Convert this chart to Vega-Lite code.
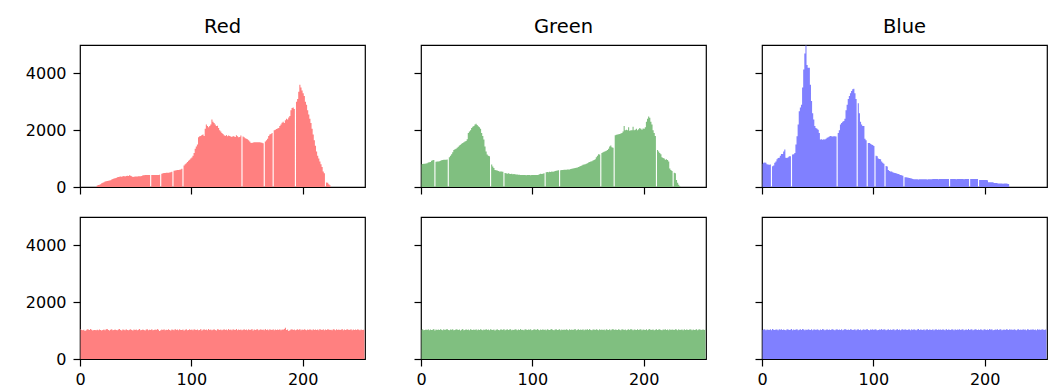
{
"$schema": "https://vega.github.io/schema/vega-lite/v6.json",
"padding": {"left": 24, "top": 15, "right": 5, "bottom": 0},
"background": "white",
"datasets": {
"R1": [{"x":14.5,"v":0},{"x":15.5,"v":50},{"x":16.5,"v":70},{"x":17.5,"v":80},{"x":18.5,"v":100},{"x":19.5,"v":130},{"x":20.5,"v":150},{"x":21.5,"v":170},{"x":22.5,"v":190},{"x":23.5,"v":200},{"x":24.5,"v":210},{"x":25.5,"v":220},{"x":26.5,"v":230},{"x":27.5,"v":240},{"x":28.5,"v":260},{"x":29.5,"v":280},{"x":30.5,"v":300},{"x":31.5,"v":310},{"x":32.5,"v":320},{"x":33.5,"v":340},{"x":34.5,"v":350},{"x":35.5,"v":360},{"x":36.5,"v":370},{"x":37.5,"v":360},{"x":38.5,"v":380},{"x":39.5,"v":390},{"x":40.5,"v":370},{"x":41.5,"v":390},{"x":42.5,"v":400},{"x":43.5,"v":390},{"x":44.5,"v":410},{"x":45.5,"v":400},{"x":46.5,"v":380},{"x":47.5,"v":350},{"x":48.5,"v":360},{"x":49.5,"v":370},{"x":50.5,"v":370},{"x":51.5,"v":370},{"x":52.5,"v":375},{"x":53.5,"v":380},{"x":54.5,"v":380},{"x":55.5,"v":385},{"x":56.5,"v":410},{"x":57.5,"v":415},{"x":58.5,"v":420},{"x":59.5,"v":420},{"x":60.5,"v":420},{"x":61.5,"v":420},{"x":62.5,"v":425},{"x":63.5,"v":0},{"x":64.5,"v":425},{"x":65.5,"v":425},{"x":66.5,"v":420},{"x":67.5,"v":425},{"x":68.5,"v":425},{"x":69.5,"v":425},{"x":70.5,"v":425},{"x":71.5,"v":430},{"x":72.5,"v":0},{"x":73.5,"v":470},{"x":74.5,"v":480},{"x":75.5,"v":490},{"x":76.5,"v":495},{"x":77.5,"v":500},{"x":78.5,"v":500},{"x":79.5,"v":505},{"x":80.5,"v":510},{"x":81.5,"v":520},{"x":82.5,"v":540},{"x":83.5,"v":0},{"x":84.5,"v":570},{"x":85.5,"v":580},{"x":86.5,"v":590},{"x":87.5,"v":600},{"x":88.5,"v":600},{"x":89.5,"v":610},{"x":90.5,"v":620},{"x":91.5,"v":640},{"x":92.5,"v":0},{"x":93.5,"v":760},{"x":94.5,"v":800},{"x":95.5,"v":840},{"x":96.5,"v":880},{"x":97.5,"v":920},{"x":98.5,"v":960},{"x":99.5,"v":1000},{"x":100.5,"v":1040},{"x":101.5,"v":1100},{"x":102.5,"v":1200},{"x":103.5,"v":1350},{"x":104.5,"v":1430},{"x":105.5,"v":1500},{"x":106.5,"v":1750},{"x":107.5,"v":1790},{"x":108.5,"v":1800},{"x":109.5,"v":1830},{"x":110.5,"v":1850},{"x":111.5,"v":1800},{"x":112.5,"v":2050},{"x":113.5,"v":2200},{"x":114.5,"v":2150},{"x":115.5,"v":2100},{"x":116.5,"v":2150},{"x":117.5,"v":2200},{"x":118.5,"v":2380},{"x":119.5,"v":2300},{"x":120.5,"v":2250},{"x":121.5,"v":2200},{"x":122.5,"v":2150},{"x":123.5,"v":2160},{"x":124.5,"v":2080},{"x":125.5,"v":2000},{"x":126.5,"v":1950},{"x":127.5,"v":1900},{"x":128.5,"v":1870},{"x":129.5,"v":1820},{"x":130.5,"v":1800},{"x":131.5,"v":1830},{"x":132.5,"v":1790},{"x":133.5,"v":1810},{"x":134.5,"v":1800},{"x":135.5,"v":1780},{"x":136.5,"v":1760},{"x":137.5,"v":1800},{"x":138.5,"v":1780},{"x":139.5,"v":1760},{"x":140.5,"v":1820},{"x":141.5,"v":1790},{"x":142.5,"v":1750},{"x":143.5,"v":1760},{"x":144.5,"v":1810},{"x":145.5,"v":0},{"x":146.5,"v":1780},{"x":147.5,"v":1750},{"x":148.5,"v":1720},{"x":149.5,"v":1700},{"x":150.5,"v":1680},{"x":151.5,"v":1650},{"x":152.5,"v":1600},{"x":153.5,"v":1560},{"x":154.5,"v":1550},{"x":155.5,"v":1570},{"x":156.5,"v":1580},{"x":157.5,"v":1580},{"x":158.5,"v":1575},{"x":159.5,"v":1580},{"x":160.5,"v":1580},{"x":161.5,"v":1575},{"x":162.5,"v":1570},{"x":163.5,"v":1560},{"x":164.5,"v":1540},{"x":165.5,"v":0},{"x":166.5,"v":1600},{"x":167.5,"v":1650},{"x":168.5,"v":1700},{"x":169.5,"v":1800},{"x":170.5,"v":1850},{"x":171.5,"v":1870},{"x":172.5,"v":1900},{"x":173.5,"v":0},{"x":174.5,"v":2000},{"x":175.5,"v":2020},{"x":176.5,"v":2040},{"x":177.5,"v":2060},{"x":178.5,"v":2080},{"x":179.5,"v":2150},{"x":180.5,"v":2200},{"x":181.5,"v":2260},{"x":182.5,"v":2300},{"x":183.5,"v":2250},{"x":184.5,"v":2350},{"x":185.5,"v":2400},{"x":186.5,"v":2380},{"x":187.5,"v":2450},{"x":188.5,"v":2500},{"x":189.5,"v":2700},{"x":190.5,"v":2780},{"x":191.5,"v":2800},{"x":192.5,"v":2750},{"x":193.5,"v":0},{"x":194.5,"v":3000},{"x":195.5,"v":3100},{"x":196.5,"v":3350},{"x":197.5,"v":3600},{"x":198.5,"v":3500},{"x":199.5,"v":3400},{"x":200.5,"v":3300},{"x":201.5,"v":3200},{"x":202.5,"v":3000},{"x":203.5,"v":2900},{"x":204.5,"v":2700},{"x":205.5,"v":2550},{"x":206.5,"v":2400},{"x":207.5,"v":2250},{"x":208.5,"v":2050},{"x":209.5,"v":1850},{"x":210.5,"v":1650},{"x":211.5,"v":1450},{"x":212.5,"v":1250},{"x":213.5,"v":1100},{"x":214.5,"v":1000},{"x":215.5,"v":900},{"x":216.5,"v":800},{"x":217.5,"v":700},{"x":218.5,"v":550},{"x":219.5,"v":480},{"x":220.5,"v":0},{"x":221.5,"v":160},{"x":222.5,"v":150},{"x":223.5,"v":100},{"x":224.5,"v":60},{"x":225.5,"v":0}],
"G1": [{"x":0.5,"v":800},{"x":1.5,"v":810},{"x":2.5,"v":820},{"x":3.5,"v":820},{"x":4.5,"v":830},{"x":5.5,"v":840},{"x":6.5,"v":860},{"x":7.5,"v":870},{"x":8.5,"v":880},{"x":9.5,"v":920},{"x":10.5,"v":940},{"x":11.5,"v":950},{"x":12.5,"v":0},{"x":13.5,"v":890},{"x":14.5,"v":900},{"x":15.5,"v":900},{"x":16.5,"v":910},{"x":17.5,"v":920},{"x":18.5,"v":940},{"x":19.5,"v":950},{"x":20.5,"v":960},{"x":21.5,"v":960},{"x":22.5,"v":960},{"x":23.5,"v":970},{"x":24.5,"v":0},{"x":25.5,"v":1050},{"x":26.5,"v":1100},{"x":27.5,"v":1150},{"x":28.5,"v":1220},{"x":29.5,"v":1300},{"x":30.5,"v":1330},{"x":31.5,"v":1350},{"x":32.5,"v":1380},{"x":33.5,"v":1420},{"x":34.5,"v":1460},{"x":35.5,"v":1490},{"x":36.5,"v":1520},{"x":37.5,"v":1550},{"x":38.5,"v":1580},{"x":39.5,"v":1600},{"x":40.5,"v":1620},{"x":41.5,"v":1680},{"x":42.5,"v":1900},{"x":43.5,"v":1950},{"x":44.5,"v":2000},{"x":45.5,"v":2080},{"x":46.5,"v":2120},{"x":47.5,"v":2150},{"x":48.5,"v":2200},{"x":49.5,"v":2230},{"x":50.5,"v":2180},{"x":51.5,"v":2140},{"x":52.5,"v":2100},{"x":53.5,"v":2050},{"x":54.5,"v":1900},{"x":55.5,"v":1800},{"x":56.5,"v":1670},{"x":57.5,"v":1430},{"x":58.5,"v":1250},{"x":59.5,"v":1140},{"x":60.5,"v":1100},{"x":61.5,"v":1080},{"x":62.5,"v":0},{"x":63.5,"v":790},{"x":64.5,"v":720},{"x":65.5,"v":670},{"x":66.5,"v":600},{"x":67.5,"v":590},{"x":68.5,"v":580},{"x":69.5,"v":560},{"x":70.5,"v":550},{"x":71.5,"v":550},{"x":72.5,"v":550},{"x":73.5,"v":540},{"x":74.5,"v":0},{"x":75.5,"v":490},{"x":76.5,"v":480},{"x":77.5,"v":470},{"x":78.5,"v":480},{"x":79.5,"v":470},{"x":80.5,"v":460},{"x":81.5,"v":470},{"x":82.5,"v":450},{"x":83.5,"v":460},{"x":84.5,"v":450},{"x":85.5,"v":440},{"x":86.5,"v":440},{"x":87.5,"v":435},{"x":88.5,"v":430},{"x":89.5,"v":425},{"x":90.5,"v":420},{"x":91.5,"v":425},{"x":92.5,"v":420},{"x":93.5,"v":420},{"x":94.5,"v":415},{"x":95.5,"v":420},{"x":96.5,"v":420},{"x":97.5,"v":420},{"x":98.5,"v":415},{"x":99.5,"v":420},{"x":100.5,"v":420},{"x":101.5,"v":420},{"x":102.5,"v":425},{"x":103.5,"v":420},{"x":104.5,"v":420},{"x":105.5,"v":430},{"x":106.5,"v":450},{"x":107.5,"v":470},{"x":108.5,"v":460},{"x":109.5,"v":470},{"x":110.5,"v":480},{"x":111.5,"v":0},{"x":112.5,"v":520},{"x":113.5,"v":530},{"x":114.5,"v":520},{"x":115.5,"v":540},{"x":116.5,"v":530},{"x":117.5,"v":550},{"x":118.5,"v":540},{"x":119.5,"v":550},{"x":120.5,"v":560},{"x":121.5,"v":570},{"x":122.5,"v":580},{"x":123.5,"v":590},{"x":124.5,"v":0},{"x":125.5,"v":590},{"x":126.5,"v":600},{"x":127.5,"v":600},{"x":128.5,"v":610},{"x":129.5,"v":610},{"x":130.5,"v":610},{"x":131.5,"v":620},{"x":132.5,"v":620},{"x":133.5,"v":620},{"x":134.5,"v":630},{"x":135.5,"v":640},{"x":136.5,"v":650},{"x":137.5,"v":660},{"x":138.5,"v":670},{"x":139.5,"v":680},{"x":140.5,"v":690},{"x":141.5,"v":700},{"x":142.5,"v":720},{"x":143.5,"v":740},{"x":144.5,"v":760},{"x":145.5,"v":780},{"x":146.5,"v":790},{"x":147.5,"v":800},{"x":148.5,"v":820},{"x":149.5,"v":840},{"x":150.5,"v":860},{"x":151.5,"v":880},{"x":152.5,"v":900},{"x":153.5,"v":910},{"x":154.5,"v":930},{"x":155.5,"v":950},{"x":156.5,"v":980},{"x":157.5,"v":1050},{"x":158.5,"v":1100},{"x":159.5,"v":1150},{"x":160.5,"v":1140},{"x":161.5,"v":0},{"x":162.5,"v":1200},{"x":163.5,"v":1220},{"x":164.5,"v":1240},{"x":165.5,"v":1260},{"x":166.5,"v":1280},{"x":167.5,"v":1300},{"x":168.5,"v":1350},{"x":169.5,"v":1430},{"x":170.5,"v":1460},{"x":171.5,"v":1400},{"x":172.5,"v":1380},{"x":173.5,"v":0},{"x":174.5,"v":1820},{"x":175.5,"v":1840},{"x":176.5,"v":1850},{"x":177.5,"v":1860},{"x":178.5,"v":1870},{"x":179.5,"v":1880},{"x":180.5,"v":1900},{"x":181.5,"v":1950},{"x":182.5,"v":2150},{"x":183.5,"v":2000},{"x":184.5,"v":2020},{"x":185.5,"v":2000},{"x":186.5,"v":2100},{"x":187.5,"v":1980},{"x":188.5,"v":2000},{"x":189.5,"v":2000},{"x":190.5,"v":2120},{"x":191.5,"v":2000},{"x":192.5,"v":2020},{"x":193.5,"v":2050},{"x":194.5,"v":2000},{"x":195.5,"v":2030},{"x":196.5,"v":2080},{"x":197.5,"v":2050},{"x":198.5,"v":2020},{"x":199.5,"v":2060},{"x":200.5,"v":2050},{"x":201.5,"v":2100},{"x":202.5,"v":2300},{"x":203.5,"v":2400},{"x":204.5,"v":2480},{"x":205.5,"v":2440},{"x":206.5,"v":2300},{"x":207.5,"v":2200},{"x":208.5,"v":2000},{"x":209.5,"v":1900},{"x":210.5,"v":1800},{"x":211.5,"v":0},{"x":212.5,"v":1300},{"x":213.5,"v":1250},{"x":214.5,"v":1200},{"x":215.5,"v":1150},{"x":216.5,"v":1050},{"x":217.5,"v":1020},{"x":218.5,"v":1000},{"x":219.5,"v":960},{"x":220.5,"v":980},{"x":221.5,"v":950},{"x":222.5,"v":900},{"x":223.5,"v":650},{"x":224.5,"v":600},{"x":225.5,"v":560},{"x":226.5,"v":0},{"x":227.5,"v":500},{"x":228.5,"v":480},{"x":229.5,"v":250},{"x":230.5,"v":150},{"x":231.5,"v":80},{"x":232.5,"v":30},{"x":233.5,"v":0}],
"B1": [{"x":0.5,"v":820},{"x":1.5,"v":850},{"x":2.5,"v":860},{"x":3.5,"v":850},{"x":4.5,"v":800},{"x":5.5,"v":790},{"x":6.5,"v":780},{"x":7.5,"v":790},{"x":8.5,"v":0},{"x":9.5,"v":730},{"x":10.5,"v":760},{"x":11.5,"v":850},{"x":12.5,"v":900},{"x":13.5,"v":980},{"x":14.5,"v":1020},{"x":15.5,"v":1030},{"x":16.5,"v":1100},{"x":17.5,"v":1160},{"x":18.5,"v":1160},{"x":19.5,"v":1250},{"x":20.5,"v":1320},{"x":21.5,"v":1030},{"x":22.5,"v":1020},{"x":23.5,"v":1050},{"x":24.5,"v":1080},{"x":25.5,"v":1080},{"x":26.5,"v":0},{"x":27.5,"v":1140},{"x":28.5,"v":1150},{"x":29.5,"v":1200},{"x":30.5,"v":1500},{"x":31.5,"v":1790},{"x":32.5,"v":2200},{"x":33.5,"v":2670},{"x":34.5,"v":2800},{"x":35.5,"v":2900},{"x":36.5,"v":3500},{"x":37.5,"v":4140},{"x":38.5,"v":4700},{"x":39.5,"v":4980},{"x":40.5,"v":4300},{"x":41.5,"v":4200},{"x":42.5,"v":4200},{"x":43.5,"v":3600},{"x":44.5,"v":3030},{"x":45.5,"v":2600},{"x":46.5,"v":2380},{"x":47.5,"v":2150},{"x":48.5,"v":2080},{"x":49.5,"v":2050},{"x":50.5,"v":2020},{"x":51.5,"v":1900},{"x":52.5,"v":1670},{"x":53.5,"v":1680},{"x":54.5,"v":1660},{"x":55.5,"v":1680},{"x":56.5,"v":1670},{"x":57.5,"v":1700},{"x":58.5,"v":1730},{"x":59.5,"v":1750},{"x":60.5,"v":1780},{"x":61.5,"v":1800},{"x":62.5,"v":1790},{"x":63.5,"v":1780},{"x":64.5,"v":1790},{"x":65.5,"v":1790},{"x":66.5,"v":1780},{"x":67.5,"v":0},{"x":68.5,"v":1900},{"x":69.5,"v":2000},{"x":70.5,"v":2200},{"x":71.5,"v":2250},{"x":72.5,"v":2300},{"x":73.5,"v":2320},{"x":74.5,"v":2400},{"x":75.5,"v":2700},{"x":76.5,"v":2900},{"x":77.5,"v":3100},{"x":78.5,"v":3200},{"x":79.5,"v":3300},{"x":80.5,"v":3380},{"x":81.5,"v":3440},{"x":82.5,"v":3460},{"x":83.5,"v":3300},{"x":84.5,"v":3100},{"x":85.5,"v":0},{"x":86.5,"v":2950},{"x":87.5,"v":2600},{"x":88.5,"v":2300},{"x":89.5,"v":2200},{"x":90.5,"v":2150},{"x":91.5,"v":2150},{"x":92.5,"v":1700},{"x":93.5,"v":1650},{"x":94.5,"v":0},{"x":95.5,"v":1550},{"x":96.5,"v":1550},{"x":97.5,"v":1520},{"x":98.5,"v":1500},{"x":99.5,"v":1480},{"x":100.5,"v":1440},{"x":101.5,"v":0},{"x":102.5,"v":1100},{"x":103.5,"v":1080},{"x":104.5,"v":1000},{"x":105.5,"v":990},{"x":106.5,"v":980},{"x":107.5,"v":900},{"x":108.5,"v":850},{"x":109.5,"v":820},{"x":110.5,"v":0},{"x":111.5,"v":740},{"x":112.5,"v":720},{"x":113.5,"v":600},{"x":114.5,"v":560},{"x":115.5,"v":550},{"x":116.5,"v":550},{"x":117.5,"v":520},{"x":118.5,"v":500},{"x":119.5,"v":490},{"x":120.5,"v":480},{"x":121.5,"v":470},{"x":122.5,"v":460},{"x":123.5,"v":440},{"x":124.5,"v":420},{"x":125.5,"v":410},{"x":126.5,"v":400},{"x":127.5,"v":0},{"x":128.5,"v":340},{"x":129.5,"v":340},{"x":130.5,"v":335},{"x":131.5,"v":330},{"x":132.5,"v":320},{"x":133.5,"v":310},{"x":134.5,"v":300},{"x":135.5,"v":280},{"x":136.5,"v":275},{"x":137.5,"v":270},{"x":138.5,"v":270},{"x":139.5,"v":270},{"x":140.5,"v":265},{"x":141.5,"v":270},{"x":142.5,"v":270},{"x":143.5,"v":275},{"x":144.5,"v":270},{"x":145.5,"v":270},{"x":146.5,"v":275},{"x":147.5,"v":270},{"x":148.5,"v":265},{"x":149.5,"v":270},{"x":150.5,"v":275},{"x":151.5,"v":270},{"x":152.5,"v":270},{"x":153.5,"v":280},{"x":154.5,"v":280},{"x":155.5,"v":285},{"x":156.5,"v":280},{"x":157.5,"v":280},{"x":158.5,"v":275},{"x":159.5,"v":280},{"x":160.5,"v":285},{"x":161.5,"v":280},{"x":162.5,"v":280},{"x":163.5,"v":280},{"x":164.5,"v":285},{"x":165.5,"v":280},{"x":166.5,"v":280},{"x":167.5,"v":280},{"x":168.5,"v":0},{"x":169.5,"v":280},{"x":170.5,"v":285},{"x":171.5,"v":280},{"x":172.5,"v":280},{"x":173.5,"v":280},{"x":174.5,"v":275},{"x":175.5,"v":280},{"x":176.5,"v":285},{"x":177.5,"v":280},{"x":178.5,"v":280},{"x":179.5,"v":280},{"x":180.5,"v":280},{"x":181.5,"v":275},{"x":182.5,"v":280},{"x":183.5,"v":280},{"x":184.5,"v":285},{"x":185.5,"v":280},{"x":186.5,"v":0},{"x":187.5,"v":280},{"x":188.5,"v":280},{"x":189.5,"v":285},{"x":190.5,"v":280},{"x":191.5,"v":280},{"x":192.5,"v":280},{"x":193.5,"v":280},{"x":194.5,"v":0},{"x":195.5,"v":250},{"x":196.5,"v":250},{"x":197.5,"v":245},{"x":198.5,"v":250},{"x":199.5,"v":250},{"x":200.5,"v":245},{"x":201.5,"v":250},{"x":202.5,"v":240},{"x":203.5,"v":170},{"x":204.5,"v":170},{"x":205.5,"v":165},{"x":206.5,"v":170},{"x":207.5,"v":165},{"x":208.5,"v":140},{"x":209.5,"v":140},{"x":210.5,"v":140},{"x":211.5,"v":135},{"x":212.5,"v":120},{"x":213.5,"v":120},{"x":214.5,"v":120},{"x":215.5,"v":120},{"x":216.5,"v":115},{"x":217.5,"v":120},{"x":218.5,"v":120},{"x":219.5,"v":120},{"x":220.5,"v":115},{"x":221.5,"v":110},{"x":222.5,"v":0}],
"R2": [{"x":0.5,"v":1060},{"x":1.5,"v":1020},{"x":2.5,"v":1015},{"x":3.5,"v":1030},{"x":4.5,"v":990},{"x":5.5,"v":1010},{"x":6.5,"v":1050},{"x":7.5,"v":1040},{"x":8.5,"v":1020},{"x":9.5,"v":1055},{"x":10.5,"v":1030},{"x":11.5,"v":1005},{"x":12.5,"v":1020},{"x":13.5,"v":1025},{"x":14.5,"v":1010},{"x":15.5,"v":1030},{"x":16.5,"v":1015},{"x":17.5,"v":1040},{"x":18.5,"v":1025},{"x":19.5,"v":1000},{"x":20.5,"v":1020},{"x":21.5,"v":1035},{"x":22.5,"v":1010},{"x":23.5,"v":1045},{"x":24.5,"v":1060},{"x":25.5,"v":1020},{"x":26.5,"v":1000},{"x":27.5,"v":1030},{"x":28.5,"v":1050},{"x":29.5,"v":1015},{"x":30.5,"v":1025},{"x":31.5,"v":1040},{"x":32.5,"v":1020},{"x":33.5,"v":1010},{"x":34.5,"v":1035},{"x":35.5,"v":1060},{"x":36.5,"v":1025},{"x":37.5,"v":1000},{"x":38.5,"v":1040},{"x":39.5,"v":1030},{"x":40.5,"v":1015},{"x":41.5,"v":1050},{"x":42.5,"v":1020},{"x":43.5,"v":1010},{"x":44.5,"v":1030},{"x":45.5,"v":1045},{"x":46.5,"v":1025},{"x":47.5,"v":1005},{"x":48.5,"v":1035},{"x":49.5,"v":1020},{"x":50.5,"v":1040},{"x":51.5,"v":1015},{"x":52.5,"v":1030},{"x":53.5,"v":1055},{"x":54.5,"v":1010},{"x":55.5,"v":1025},{"x":56.5,"v":1040},{"x":57.5,"v":1020},{"x":58.5,"v":1000},{"x":59.5,"v":1035},{"x":60.5,"v":1050},{"x":61.5,"v":1015},{"x":62.5,"v":1030},{"x":63.5,"v":1020},{"x":64.5,"v":1045},{"x":65.5,"v":1010},{"x":66.5,"v":1025},{"x":67.5,"v":1040},{"x":68.5,"v":1020},{"x":69.5,"v":1060},{"x":70.5,"v":1030},{"x":71.5,"v":985},{"x":72.5,"v":1015},{"x":73.5,"v":1040},{"x":74.5,"v":1025},{"x":75.5,"v":1050},{"x":76.5,"v":1010},{"x":77.5,"v":1030},{"x":78.5,"v":1020},{"x":79.5,"v":1045},{"x":80.5,"v":1025},{"x":81.5,"v":1000},{"x":82.5,"v":1040},{"x":83.5,"v":1030},{"x":84.5,"v":1015},{"x":85.5,"v":1055},{"x":86.5,"v":1020},{"x":87.5,"v":1035},{"x":88.5,"v":1010},{"x":89.5,"v":1045},{"x":90.5,"v":1025},{"x":91.5,"v":1020},{"x":92.5,"v":1040},{"x":93.5,"v":1005},{"x":94.5,"v":1030},{"x":95.5,"v":1050},{"x":96.5,"v":1015},{"x":97.5,"v":1025},{"x":98.5,"v":1045},{"x":99.5,"v":1020},{"x":100.5,"v":1035},{"x":101.5,"v":1010},{"x":102.5,"v":1050},{"x":103.5,"v":1030},{"x":104.5,"v":1020},{"x":105.5,"v":1040},{"x":106.5,"v":1015},{"x":107.5,"v":1025},{"x":108.5,"v":1060},{"x":109.5,"v":1000},{"x":110.5,"v":1030},{"x":111.5,"v":1045},{"x":112.5,"v":1020},{"x":113.5,"v":1035},{"x":114.5,"v":1010},{"x":115.5,"v":1055},{"x":116.5,"v":1025},{"x":117.5,"v":1040},{"x":118.5,"v":1015},{"x":119.5,"v":1030},{"x":120.5,"v":1050},{"x":121.5,"v":1020},{"x":122.5,"v":1005},{"x":123.5,"v":1045},{"x":124.5,"v":1035},{"x":125.5,"v":1020},{"x":126.5,"v":1040},{"x":127.5,"v":1010},{"x":128.5,"v":1030},{"x":129.5,"v":1050},{"x":130.5,"v":1020},{"x":131.5,"v":1035},{"x":132.5,"v":1015},{"x":133.5,"v":1060},{"x":134.5,"v":1025},{"x":135.5,"v":1040},{"x":136.5,"v":1010},{"x":137.5,"v":1045},{"x":138.5,"v":1030},{"x":139.5,"v":1020},{"x":140.5,"v":1055},{"x":141.5,"v":1015},{"x":142.5,"v":1035},{"x":143.5,"v":1025},{"x":144.5,"v":1040},{"x":145.5,"v":1010},{"x":146.5,"v":1030},{"x":147.5,"v":1050},{"x":148.5,"v":1020},{"x":149.5,"v":1035},{"x":150.5,"v":1015},{"x":151.5,"v":1045},{"x":152.5,"v":1025},{"x":153.5,"v":1030},{"x":154.5,"v":1060},{"x":155.5,"v":1000},{"x":156.5,"v":1040},{"x":157.5,"v":1020},{"x":158.5,"v":1035},{"x":159.5,"v":1050},{"x":160.5,"v":1015},{"x":161.5,"v":1030},{"x":162.5,"v":1045},{"x":163.5,"v":1020},{"x":164.5,"v":1040},{"x":165.5,"v":1010},{"x":166.5,"v":1055},{"x":167.5,"v":1025},{"x":168.5,"v":1035},{"x":169.5,"v":1015},{"x":170.5,"v":1050},{"x":171.5,"v":1030},{"x":172.5,"v":1020},{"x":173.5,"v":1045},{"x":174.5,"v":1010},{"x":175.5,"v":1040},{"x":176.5,"v":1025},{"x":177.5,"v":1035},{"x":178.5,"v":1020},{"x":179.5,"v":1050},{"x":180.5,"v":1015},{"x":181.5,"v":1040},{"x":182.5,"v":1030},{"x":183.5,"v":1060},{"x":184.5,"v":1100},{"x":185.5,"v":1020},{"x":186.5,"v":1040},{"x":187.5,"v":990},{"x":188.5,"v":1010},{"x":189.5,"v":1035},{"x":190.5,"v":1050},{"x":191.5,"v":1025},{"x":192.5,"v":1040},{"x":193.5,"v":1015},{"x":194.5,"v":1030},{"x":195.5,"v":1045},{"x":196.5,"v":1020},{"x":197.5,"v":1055},{"x":198.5,"v":1010},{"x":199.5,"v":1035},{"x":200.5,"v":1025},{"x":201.5,"v":1050},{"x":202.5,"v":1030},{"x":203.5,"v":1015},{"x":204.5,"v":1040},{"x":205.5,"v":1020},{"x":206.5,"v":1045},{"x":207.5,"v":1030},{"x":208.5,"v":1010},{"x":209.5,"v":1050},{"x":210.5,"v":1025},{"x":211.5,"v":1035},{"x":212.5,"v":1020},{"x":213.5,"v":1040},{"x":214.5,"v":1015},{"x":215.5,"v":1055},{"x":216.5,"v":1030},{"x":217.5,"v":1020},{"x":218.5,"v":1045},{"x":219.5,"v":1010},{"x":220.5,"v":1035},{"x":221.5,"v":1025},{"x":222.5,"v":1050},{"x":223.5,"v":1040},{"x":224.5,"v":1020},{"x":225.5,"v":1030},{"x":226.5,"v":1015},{"x":227.5,"v":1045},{"x":228.5,"v":1035},{"x":229.5,"v":1010},{"x":230.5,"v":1050},{"x":231.5,"v":1025},{"x":232.5,"v":1040},{"x":233.5,"v":1020},{"x":234.5,"v":1030},{"x":235.5,"v":1055},{"x":236.5,"v":1015},{"x":237.5,"v":1040},{"x":238.5,"v":1025},{"x":239.5,"v":1035},{"x":240.5,"v":1045},{"x":241.5,"v":1020},{"x":242.5,"v":1030},{"x":243.5,"v":1050},{"x":244.5,"v":1010},{"x":245.5,"v":1040},{"x":246.5,"v":1025},{"x":247.5,"v":1035},{"x":248.5,"v":1020},{"x":249.5,"v":1045},{"x":250.5,"v":1030},{"x":251.5,"v":1015},{"x":252.5,"v":1040},{"x":253.5,"v":1020},{"x":254.5,"v":1030},{"x":255.5,"v":1025}],
"G2": [{"x":0.5,"v":1030},{"x":1.5,"v":1045},{"x":2.5,"v":1010},{"x":3.5,"v":1025},{"x":4.5,"v":1040},{"x":5.5,"v":1020},{"x":6.5,"v":1050},{"x":7.5,"v":1015},{"x":8.5,"v":1035},{"x":9.5,"v":1020},{"x":10.5,"v":1030},{"x":11.5,"v":1055},{"x":12.5,"v":1000},{"x":13.5,"v":1040},{"x":14.5,"v":1025},{"x":15.5,"v":1035},{"x":16.5,"v":1020},{"x":17.5,"v":1050},{"x":18.5,"v":1030},{"x":19.5,"v":1010},{"x":20.5,"v":1045},{"x":21.5,"v":1025},{"x":22.5,"v":1035},{"x":23.5,"v":1060},{"x":24.5,"v":1020},{"x":25.5,"v":1015},{"x":26.5,"v":1040},{"x":27.5,"v":1030},{"x":28.5,"v":1050},{"x":29.5,"v":1010},{"x":30.5,"v":1025},{"x":31.5,"v":1045},{"x":32.5,"v":1035},{"x":33.5,"v":1020},{"x":34.5,"v":1040},{"x":35.5,"v":1000},{"x":36.5,"v":1030},{"x":37.5,"v":1055},{"x":38.5,"v":1015},{"x":39.5,"v":1025},{"x":40.5,"v":1045},{"x":41.5,"v":1020},{"x":42.5,"v":1035},{"x":43.5,"v":1010},{"x":44.5,"v":1050},{"x":45.5,"v":1030},{"x":46.5,"v":1020},{"x":47.5,"v":1040},{"x":48.5,"v":1025},{"x":49.5,"v":1045},{"x":50.5,"v":1015},{"x":51.5,"v":1035},{"x":52.5,"v":1020},{"x":53.5,"v":1050},{"x":54.5,"v":1030},{"x":55.5,"v":1010},{"x":56.5,"v":1040},{"x":57.5,"v":1025},{"x":58.5,"v":1060},{"x":59.5,"v":1020},{"x":60.5,"v":1035},{"x":61.5,"v":1015},{"x":62.5,"v":1045},{"x":63.5,"v":1030},{"x":64.5,"v":1020},{"x":65.5,"v":1040},{"x":66.5,"v":1005},{"x":67.5,"v":1030},{"x":68.5,"v":1050},{"x":69.5,"v":1025},{"x":70.5,"v":1015},{"x":71.5,"v":1040},{"x":72.5,"v":1035},{"x":73.5,"v":1020},{"x":74.5,"v":1055},{"x":75.5,"v":1010},{"x":76.5,"v":1030},{"x":77.5,"v":1045},{"x":78.5,"v":1025},{"x":79.5,"v":1035},{"x":80.5,"v":1050},{"x":81.5,"v":1015},{"x":82.5,"v":1030},{"x":83.5,"v":1020},{"x":84.5,"v":1045},{"x":85.5,"v":1035},{"x":86.5,"v":1010},{"x":87.5,"v":1040},{"x":88.5,"v":1025},{"x":89.5,"v":1055},{"x":90.5,"v":1020},{"x":91.5,"v":1030},{"x":92.5,"v":1015},{"x":93.5,"v":1045},{"x":94.5,"v":1035},{"x":95.5,"v":1020},{"x":96.5,"v":1040},{"x":97.5,"v":1030},{"x":98.5,"v":1050},{"x":99.5,"v":1010},{"x":100.5,"v":1025},{"x":101.5,"v":1045},{"x":102.5,"v":1035},{"x":103.5,"v":1020},{"x":104.5,"v":1060},{"x":105.5,"v":1030},{"x":106.5,"v":1015},{"x":107.5,"v":1040},{"x":108.5,"v":1025},{"x":109.5,"v":1050},{"x":110.5,"v":1020},{"x":111.5,"v":1035},{"x":112.5,"v":1010},{"x":113.5,"v":1045},{"x":114.5,"v":1030},{"x":115.5,"v":1020},{"x":116.5,"v":1040},{"x":117.5,"v":1055},{"x":118.5,"v":1025},{"x":119.5,"v":1015},{"x":120.5,"v":1035},{"x":121.5,"v":1050},{"x":122.5,"v":1020},{"x":123.5,"v":1030},{"x":124.5,"v":1045},{"x":125.5,"v":1010},{"x":126.5,"v":1040},{"x":127.5,"v":1025},{"x":128.5,"v":1035},{"x":129.5,"v":1020},{"x":130.5,"v":1050},{"x":131.5,"v":1030},{"x":132.5,"v":1015},{"x":133.5,"v":1045},{"x":134.5,"v":1025},{"x":135.5,"v":1040},{"x":136.5,"v":1020},{"x":137.5,"v":1035},{"x":138.5,"v":1055},{"x":139.5,"v":1010},{"x":140.5,"v":1030},{"x":141.5,"v":1045},{"x":142.5,"v":1020},{"x":143.5,"v":1040},{"x":144.5,"v":1025},{"x":145.5,"v":1050},{"x":146.5,"v":1015},{"x":147.5,"v":1035},{"x":148.5,"v":1030},{"x":149.5,"v":1045},{"x":150.5,"v":1020},{"x":151.5,"v":1060},{"x":152.5,"v":1025},{"x":153.5,"v":1010},{"x":154.5,"v":1040},{"x":155.5,"v":1035},{"x":156.5,"v":1020},{"x":157.5,"v":1050},{"x":158.5,"v":1030},{"x":159.5,"v":1015},{"x":160.5,"v":1045},{"x":161.5,"v":1025},{"x":162.5,"v":1035},{"x":163.5,"v":1020},{"x":164.5,"v":1040},{"x":165.5,"v":1010},{"x":166.5,"v":1050},{"x":167.5,"v":1030},{"x":168.5,"v":1025},{"x":169.5,"v":1045},{"x":170.5,"v":1015},{"x":171.5,"v":1035},{"x":172.5,"v":1055},{"x":173.5,"v":1020},{"x":174.5,"v":1040},{"x":175.5,"v":1030},{"x":176.5,"v":1020},{"x":177.5,"v":1045},{"x":178.5,"v":1030},{"x":179.5,"v":1015},{"x":180.5,"v":1050},{"x":181.5,"v":1035},{"x":182.5,"v":1025},{"x":183.5,"v":1040},{"x":184.5,"v":1010},{"x":185.5,"v":1030},{"x":186.5,"v":1045},{"x":187.5,"v":1020},{"x":188.5,"v":1055},{"x":189.5,"v":1035},{"x":190.5,"v":1015},{"x":191.5,"v":1040},{"x":192.5,"v":1030},{"x":193.5,"v":1020},{"x":194.5,"v":1045},{"x":195.5,"v":1025},{"x":196.5,"v":1035},{"x":197.5,"v":1050},{"x":198.5,"v":1010},{"x":199.5,"v":1040},{"x":200.5,"v":1030},{"x":201.5,"v":1020},{"x":202.5,"v":1045},{"x":203.5,"v":1015},{"x":204.5,"v":1035},{"x":205.5,"v":1060},{"x":206.5,"v":1025},{"x":207.5,"v":1030},{"x":208.5,"v":1040},{"x":209.5,"v":1015},{"x":210.5,"v":1030},{"x":211.5,"v":1045},{"x":212.5,"v":1020},{"x":213.5,"v":1035},{"x":214.5,"v":1050},{"x":215.5,"v":1025},{"x":216.5,"v":1010},{"x":217.5,"v":1040},{"x":218.5,"v":1030},{"x":219.5,"v":1045},{"x":220.5,"v":1020},{"x":221.5,"v":1035},{"x":222.5,"v":1015},{"x":223.5,"v":1050},{"x":224.5,"v":1025},{"x":225.5,"v":1040},{"x":226.5,"v":1030},{"x":227.5,"v":1020},{"x":228.5,"v":1045},{"x":229.5,"v":1035},{"x":230.5,"v":1010},{"x":231.5,"v":1050},{"x":232.5,"v":1025},{"x":233.5,"v":1030},{"x":234.5,"v":1040},{"x":235.5,"v":1015},{"x":236.5,"v":1045},{"x":237.5,"v":1020},{"x":238.5,"v":1035},{"x":239.5,"v":1030},{"x":240.5,"v":1020},{"x":241.5,"v":1045},{"x":242.5,"v":1035},{"x":243.5,"v":1010},{"x":244.5,"v":1040},{"x":245.5,"v":1025},{"x":246.5,"v":1030},{"x":247.5,"v":1050},{"x":248.5,"v":1015},{"x":249.5,"v":1035},{"x":250.5,"v":1045},{"x":251.5,"v":1020},{"x":252.5,"v":1030},{"x":253.5,"v":1040},{"x":254.5,"v":1025},{"x":255.5,"v":1050}],
"B2": [{"x":0.5,"v":1020},{"x":1.5,"v":1035},{"x":2.5,"v":1050},{"x":3.5,"v":1015},{"x":4.5,"v":1040},{"x":5.5,"v":1030},{"x":6.5,"v":1025},{"x":7.5,"v":1045},{"x":8.5,"v":1010},{"x":9.5,"v":1055},{"x":10.5,"v":1030},{"x":11.5,"v":1020},{"x":12.5,"v":1040},{"x":13.5,"v":1035},{"x":14.5,"v":1015},{"x":15.5,"v":1045},{"x":16.5,"v":1030},{"x":17.5,"v":1050},{"x":18.5,"v":1020},{"x":19.5,"v":1040},{"x":20.5,"v":1025},{"x":21.5,"v":1010},{"x":22.5,"v":1045},{"x":23.5,"v":1035},{"x":24.5,"v":1020},{"x":25.5,"v":1030},{"x":26.5,"v":1055},{"x":27.5,"v":1015},{"x":28.5,"v":1040},{"x":29.5,"v":1025},{"x":30.5,"v":1035},{"x":31.5,"v":1050},{"x":32.5,"v":1015},{"x":33.5,"v":1030},{"x":34.5,"v":1045},{"x":35.5,"v":1020},{"x":36.5,"v":1060},{"x":37.5,"v":1035},{"x":38.5,"v":1010},{"x":39.5,"v":1040},{"x":40.5,"v":1025},{"x":41.5,"v":1050},{"x":42.5,"v":1030},{"x":43.5,"v":1020},{"x":44.5,"v":1045},{"x":45.5,"v":1015},{"x":46.5,"v":1035},{"x":47.5,"v":1040},{"x":48.5,"v":1025},{"x":49.5,"v":1045},{"x":50.5,"v":1030},{"x":51.5,"v":1010},{"x":52.5,"v":1040},{"x":53.5,"v":1020},{"x":54.5,"v":1055},{"x":55.5,"v":1035},{"x":56.5,"v":1015},{"x":57.5,"v":1030},{"x":58.5,"v":1050},{"x":59.5,"v":1025},{"x":60.5,"v":1040},{"x":61.5,"v":1020},{"x":62.5,"v":1035},{"x":63.5,"v":1045},{"x":64.5,"v":1030},{"x":65.5,"v":1015},{"x":66.5,"v":1040},{"x":67.5,"v":1050},{"x":68.5,"v":1025},{"x":69.5,"v":1035},{"x":70.5,"v":1020},{"x":71.5,"v":1045},{"x":72.5,"v":1010},{"x":73.5,"v":1030},{"x":74.5,"v":1055},{"x":75.5,"v":1040},{"x":76.5,"v":1020},{"x":77.5,"v":1035},{"x":78.5,"v":1025},{"x":79.5,"v":1050},{"x":80.5,"v":1040},{"x":81.5,"v":1020},{"x":82.5,"v":1030},{"x":83.5,"v":1045},{"x":84.5,"v":1015},{"x":85.5,"v":1035},{"x":86.5,"v":1050},{"x":87.5,"v":1025},{"x":88.5,"v":1040},{"x":89.5,"v":1010},{"x":90.5,"v":1030},{"x":91.5,"v":1045},{"x":92.5,"v":1020},{"x":93.5,"v":1035},{"x":94.5,"v":1055},{"x":95.5,"v":1025},{"x":96.5,"v":1015},{"x":97.5,"v":1040},{"x":98.5,"v":1030},{"x":99.5,"v":1050},{"x":100.5,"v":1020},{"x":101.5,"v":1045},{"x":102.5,"v":1035},{"x":103.5,"v":1010},{"x":104.5,"v":1025},{"x":105.5,"v":1040},{"x":106.5,"v":1030},{"x":107.5,"v":1055},{"x":108.5,"v":1020},{"x":109.5,"v":1045},{"x":110.5,"v":1035},{"x":111.5,"v":1015},{"x":112.5,"v":1030},{"x":113.5,"v":1050},{"x":114.5,"v":1025},{"x":115.5,"v":1040},{"x":116.5,"v":1020},{"x":117.5,"v":1035},{"x":118.5,"v":1045},{"x":119.5,"v":1015},{"x":120.5,"v":1030},{"x":121.5,"v":1060},{"x":122.5,"v":1025},{"x":123.5,"v":1040},{"x":124.5,"v":1010},{"x":125.5,"v":1035},{"x":126.5,"v":1050},{"x":127.5,"v":1020},{"x":128.5,"v":1045},{"x":129.5,"v":1030},{"x":130.5,"v":1020},{"x":131.5,"v":1040},{"x":132.5,"v":1035},{"x":133.5,"v":1015},{"x":134.5,"v":1050},{"x":135.5,"v":1025},{"x":136.5,"v":1045},{"x":137.5,"v":1030},{"x":138.5,"v":1010},{"x":139.5,"v":1040},{"x":140.5,"v":1055},{"x":141.5,"v":1020},{"x":142.5,"v":1035},{"x":143.5,"v":1030},{"x":144.5,"v":1025},{"x":145.5,"v":1045},{"x":146.5,"v":1015},{"x":147.5,"v":1035},{"x":148.5,"v":1050},{"x":149.5,"v":1020},{"x":150.5,"v":1040},{"x":151.5,"v":1030},{"x":152.5,"v":1025},{"x":153.5,"v":1045},{"x":154.5,"v":1010},{"x":155.5,"v":1035},{"x":156.5,"v":1050},{"x":157.5,"v":1020},{"x":158.5,"v":1040},{"x":159.5,"v":1030},{"x":160.5,"v":1035},{"x":161.5,"v":1020},{"x":162.5,"v":1045},{"x":163.5,"v":1030},{"x":164.5,"v":1015},{"x":165.5,"v":1055},{"x":166.5,"v":1025},{"x":167.5,"v":1040},{"x":168.5,"v":1030},{"x":169.5,"v":1020},{"x":170.5,"v":1050},{"x":171.5,"v":1035},{"x":172.5,"v":1010},{"x":173.5,"v":1045},{"x":174.5,"v":1025},{"x":175.5,"v":1040},{"x":176.5,"v":1030},{"x":177.5,"v":1050},{"x":178.5,"v":1020},{"x":179.5,"v":1035},{"x":180.5,"v":1045},{"x":181.5,"v":1015},{"x":182.5,"v":1030},{"x":183.5,"v":1040},{"x":184.5,"v":1025},{"x":185.5,"v":1055},{"x":186.5,"v":1020},{"x":187.5,"v":1035},{"x":188.5,"v":1045},{"x":189.5,"v":1010},{"x":190.5,"v":1030},{"x":191.5,"v":1050},{"x":192.5,"v":1040},{"x":193.5,"v":1025},{"x":194.5,"v":1035},{"x":195.5,"v":1020},{"x":196.5,"v":1045},{"x":197.5,"v":1030},{"x":198.5,"v":1015},{"x":199.5,"v":1050},{"x":200.5,"v":1035},{"x":201.5,"v":1025},{"x":202.5,"v":1040},{"x":203.5,"v":1020},{"x":204.5,"v":1055},{"x":205.5,"v":1030},{"x":206.5,"v":1045},{"x":207.5,"v":1015},{"x":208.5,"v":1025},{"x":209.5,"v":1040},{"x":210.5,"v":1030},{"x":211.5,"v":1050},{"x":212.5,"v":1020},{"x":213.5,"v":1035},{"x":214.5,"v":1045},{"x":215.5,"v":1010},{"x":216.5,"v":1030},{"x":217.5,"v":1040},{"x":218.5,"v":1025},{"x":219.5,"v":1050},{"x":220.5,"v":1035},{"x":221.5,"v":1020},{"x":222.5,"v":1045},{"x":223.5,"v":1030},{"x":224.5,"v":1035},{"x":225.5,"v":1020},{"x":226.5,"v":1045},{"x":227.5,"v":1030},{"x":228.5,"v":1015},{"x":229.5,"v":1040},{"x":230.5,"v":1050},{"x":231.5,"v":1025},{"x":232.5,"v":1035},{"x":233.5,"v":1020},{"x":234.5,"v":1045},{"x":235.5,"v":1030},{"x":236.5,"v":1040},{"x":237.5,"v":1010},{"x":238.5,"v":1050},{"x":239.5,"v":1035},{"x":240.5,"v":1020},{"x":241.5,"v":1040},{"x":242.5,"v":1030},{"x":243.5,"v":1045},{"x":244.5,"v":1025},{"x":245.5,"v":1035},{"x":246.5,"v":1015},{"x":247.5,"v":1050},{"x":248.5,"v":1030},{"x":249.5,"v":1040},{"x":250.5,"v":1020},{"x":251.5,"v":1045},{"x":252.5,"v":1035},{"x":253.5,"v":1025},{"x":254.5,"v":1040},{"x":255.5,"v":1030}]
},
"config": {
  "font": "DejaVu Sans",
  "view": {"stroke": "#000000", "strokeWidth": 1.2},
  "axis": {"domain": false, "grid": false, "ticks": true, "tickColor": "#000000", "tickSize": 7, "tickWidth": 1.2, "labelFont": "DejaVu Sans", "labelFontSize": 16, "labelColor": "#000000", "labelFlush": false, "title": null},
  "axisY": {"labelPadding": 7, "format": "d"},
  "axisX": {"labelPadding": 5, "format": "d"},
  "title": {"font": "DejaVu Sans", "fontSize": 19.5, "fontWeight": "normal", "color": "#000000", "offset": 8, "anchor": "middle"}
},
"columns": 3,
"spacing": {"row": 30, "column": 56},
"bounds": "flush",
"concat": [
  {"width": 285, "height": 142, "title": "Red", "data": {"name": "R1"},
   "mark": {"type": "area", "interpolate": "step", "color": "#ff8080", "opacity": 1, "clip": true},
   "encoding": {
     "x": {"field": "x", "type": "quantitative", "scale": {"domain": [0, 256], "nice": false, "zero": false}, "axis": {"values": [0, 100, 200], "labels": false, "title": null}},
     "y": {"field": "v", "type": "quantitative", "scale": {"domain": [0, 5000], "nice": false}, "axis": {"values": [0, 2000, 4000], "title": null}}}},
  {"width": 285, "height": 142, "title": "Green", "data": {"name": "G1"},
   "mark": {"type": "area", "interpolate": "step", "color": "#80bf80", "opacity": 1, "clip": true},
   "encoding": {
     "x": {"field": "x", "type": "quantitative", "scale": {"domain": [0, 256], "nice": false, "zero": false}, "axis": {"values": [0, 100, 200], "labels": false, "title": null}},
     "y": {"field": "v", "type": "quantitative", "scale": {"domain": [0, 5000], "nice": false}, "axis": {"values": [0, 2000, 4000], "labels": false, "title": null}}}},
  {"width": 285, "height": 142, "title": "Blue", "data": {"name": "B1"},
   "mark": {"type": "area", "interpolate": "step", "color": "#8080ff", "opacity": 1, "clip": true},
   "encoding": {
     "x": {"field": "x", "type": "quantitative", "scale": {"domain": [0, 256], "nice": false, "zero": false}, "axis": {"values": [0, 100, 200], "labels": false, "title": null}},
     "y": {"field": "v", "type": "quantitative", "scale": {"domain": [0, 5000], "nice": false}, "axis": {"values": [0, 2000, 4000], "labels": false, "title": null}}}},
  {"width": 285, "height": 142, "data": {"name": "R2"},
   "mark": {"type": "area", "interpolate": "step", "color": "#ff8080", "opacity": 1, "clip": true},
   "encoding": {
     "x": {"field": "x", "type": "quantitative", "scale": {"domain": [0, 256], "nice": false, "zero": false}, "axis": {"values": [0, 100, 200], "title": null}},
     "y": {"field": "v", "type": "quantitative", "scale": {"domain": [0, 5000], "nice": false}, "axis": {"values": [0, 2000, 4000], "title": null}}}},
  {"width": 285, "height": 142, "data": {"name": "G2"},
   "mark": {"type": "area", "interpolate": "step", "color": "#80bf80", "opacity": 1, "clip": true},
   "encoding": {
     "x": {"field": "x", "type": "quantitative", "scale": {"domain": [0, 256], "nice": false, "zero": false}, "axis": {"values": [0, 100, 200], "title": null}},
     "y": {"field": "v", "type": "quantitative", "scale": {"domain": [0, 5000], "nice": false}, "axis": {"values": [0, 2000, 4000], "labels": false, "title": null}}}},
  {"width": 285, "height": 142, "data": {"name": "B2"},
   "mark": {"type": "area", "interpolate": "step", "color": "#8080ff", "opacity": 1, "clip": true},
   "encoding": {
     "x": {"field": "x", "type": "quantitative", "scale": {"domain": [0, 256], "nice": false, "zero": false}, "axis": {"values": [0, 100, 200], "title": null}},
     "y": {"field": "v", "type": "quantitative", "scale": {"domain": [0, 5000], "nice": false}, "axis": {"values": [0, 2000, 4000], "labels": false, "title": null}}}}
]
}
